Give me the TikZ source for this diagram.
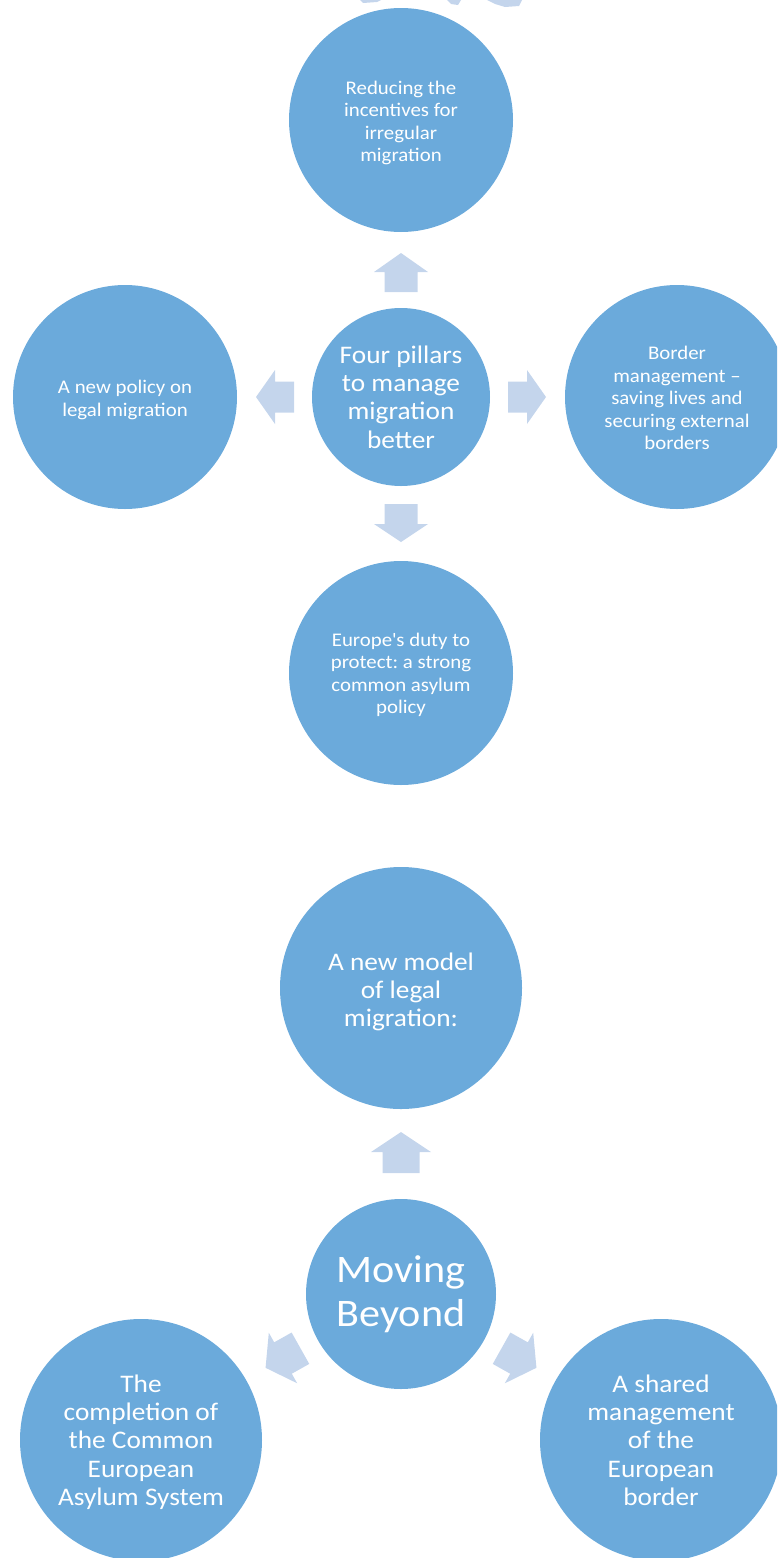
\documentclass[tikz,border=0pt]{standalone}
\usepackage{fontspec}
\setmainfont{Carlito}[FakeStretch=1.08]
\frenchspacing
\definecolor{circ}{HTML}{6BAADB}
\definecolor{arr}{HTML}{C4D5EC}
\tikzset{
  x=1pt,y=-1pt,
  bubble/.style={circle,fill=circ,draw=none,text=white,align=center,inner sep=0pt},
  txt/.style={text=white,align=center,inner sep=0pt},
  small/.style={font=\fontsize{19.3}{22.5}\selectfont},
  mid/.style={font=\fontsize{25.3}{28.3}\selectfont},
  big/.style={font=\fontsize{39}{44}\selectfont},
  pics/blockarrow/.style n args={4}{code={
    \fill[arr] (-#1/2,-#4/2) -- (#1/2-#2,-#4/2) -- (#1/2-#2,-#3/2) -- (#1/2,0)
      -- (#1/2-#2,#3/2) -- (#1/2-#2,#4/2) -- (-#1/2,#4/2) -- cycle;}}
}
\begin{document}
\begin{tikzpicture}
\useasboundingbox (0,0) rectangle (777,1558);
\clip (0,0) rectangle (777,1558);
% fragments at the top edge
\fill[arr] (360,0) -- (381,0) -- (377,2) -- (363,3) -- cycle;
\fill[arr] (447,0) -- (461,0) -- (458,5) -- (451,4) -- cycle;
\fill[arr] (487,0) -- (522,0) -- (519,6) -- (505,7) -- (495,4) -- cycle;

% ---- diagram 1 ----
\node[bubble,minimum size=224,label={[txt,small,yshift=-3pt]center:Reducing the\\incentives for\\irregular\\migration}] (top) at (401,120) {};
\node[bubble,mid,minimum size=178] (c1) at (401,397) {Four pillars\\to manage\\migration\\better};
\node[bubble,minimum size=224,label={[txt,small,yshift=-3pt]center:A new policy on\\legal migration}] (left) at (125,397) {};
\node[bubble,minimum size=224,label={[txt,small,yshift=-1pt]center:Border\\management –\\saving lives and\\securing external\\borders}] (right) at (677,397) {};
\node[bubble,minimum size=224,label={[txt,small,yshift=-2pt]center:Europe\textquotesingle s duty to\\protect: a strong\\common asylum\\policy}] (bot) at (401,673) {};

\pic[rotate=90] at (401,272.5) {blockarrow={39}{19}{54}{33}};
\pic[rotate=-90] at (401,523) {blockarrow={38}{18}{54}{33}};
\pic[rotate=180] at (275,397) {blockarrow={38}{19}{54}{31}};
\pic at (527,397) {blockarrow={38}{19}{54}{31}};

% ---- diagram 2 ----
\node[bubble,minimum size=242,label={[txt,mid,yshift=-4pt]center:A new model\\of legal\\migration:}] (model) at (401,988) {};
\node[bubble,big,minimum size=190] (c2) at (401,1294) {Moving\\Beyond};
\node[bubble,minimum size=242,label={[txt,mid,yshift=-2pt]center:The\\completion of\\the Common\\European\\Asylum System}] (ceas) at (141,1440) {};
\node[bubble,mid,minimum size=242] (border) at (661,1440) {A shared\\management\\of the\\European\\border};

\pic[rotate=90] at (401,1152.5) {blockarrow={41}{20}{60}{37}};
\pic[rotate=209.3] at (283,1358) {blockarrow={40}{20}{58}{36}};
\pic[rotate=-29.3] at (519,1358) {blockarrow={40}{20}{58}{36}};
\end{tikzpicture}
\end{document}
